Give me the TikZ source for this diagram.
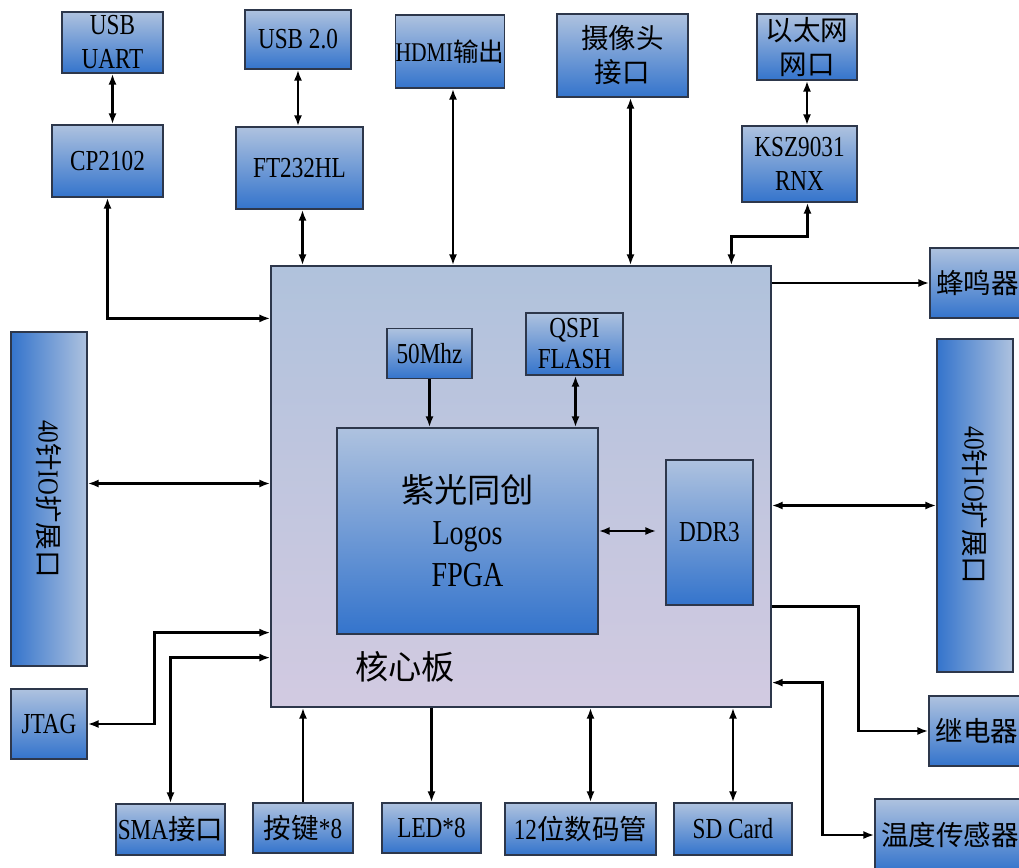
\documentclass[tikz,border=0pt]{standalone}
\usepackage{fontspec}
\setmainfont{Liberation Serif}[FakeStretch=0.8]
\newfontfamily\cjk{Noto Sans CJK SC}[Scale=0.95]
\newcommand{\zh}[1]{{\cjk #1}}
\usetikzlibrary{arrows.meta}
\usetikzlibrary{calc}

\definecolor{boxtop}{RGB}{174,194,223}
\definecolor{boxbot}{RGB}{52,116,204}
\definecolor{coretop}{RGB}{176,194,220}
\definecolor{corebot}{RGB}{210,202,225}
\definecolor{edgec}{RGB}{45,55,75}

\begin{document}
\begin{tikzpicture}[x=1pt, y=-1pt,
    blk/.style={draw=edgec, line width=1.2pt, top color=boxtop, bottom color=boxbot,
      inner sep=0pt, align=center, font=\fontsize{29}{34}\selectfont},
    side/.style={blk, left color=boxbot, right color=boxtop},
    core/.style={draw=edgec, line width=1.2pt, top color=coretop, bottom color=corebot},
    both/.style={line width=2.3pt, {Latex[length=11pt,width=8pt]}-{Latex[length=11pt,width=8pt]}},
    fwd/.style={line width=2.3pt, -{Latex[length=11pt,width=8pt]}}]
    \useasboundingbox (0,0) rectangle (1019,867);

    % top row
    \node[blk, minimum width=101pt, minimum height=61pt] (uart) at (112.5,42.5) {USB\\UART};
    \node[blk, minimum width=111pt, minimum height=72pt] (cp) at (107.5,161) {CP2102};
    \node[blk, minimum width=106pt, minimum height=59pt] (usb) at (298,39.5) {USB 2.0};
    \node[blk, minimum width=127pt, minimum height=82pt] (ft) at (299.5,168) {FT232HL};
    \node[blk, minimum width=106pt, minimum height=73pt, font=\fontsize{27}{34}\selectfont] (hdmi) at (450,51.5) {HDMI\zh{输出}};
    \node[blk, minimum width=131pt, minimum height=83pt] (cam) at (622.5,55.5) {\zh{摄像头}\\\zh{接口}};
    \node[blk, minimum width=100pt, minimum height=66pt] (eth) at (807,47) {\zh{以太网}\\\zh{网口}};
    \node[blk, minimum width=115pt, minimum height=76pt] (ksz) at (799.5,164) {KSZ9031\\RNX};

    % core board
    \node[core, minimum width=500pt, minimum height=441pt] (board) at (521,486.5) {};
    \node[font=\fontsize{35}{40}\selectfont] (boardlbl) at (405,667) {\zh{核心板}};
    \node[blk, minimum width=85pt, minimum height=50pt] (clk) at (429.5,353.5) {50Mhz};
    \node[blk, minimum width=97pt, minimum height=62pt, font=\fontsize{29}{31}\selectfont] (flash) at (574.5,344) {QSPI\\FLASH};
    \node[blk, minimum width=261pt, minimum height=206pt, font=\fontsize{35}{42}\selectfont] (fpga) at (467.5,531) {\zh{紫光同创}\\Logos\\FPGA};
    \node[blk, minimum width=87pt, minimum height=145pt] (ddr) at (709.5,532.5) {DDR3};

    % sides
    \node[side, minimum width=76pt, minimum height=334pt] (ioL) at (49,499) {\rotatebox{-90}{40\zh{针}IO\zh{扩展口}}};
    \node[side, minimum width=76pt, minimum height=333pt] (ioR) at (975,505.5) {\rotatebox{-90}{40\zh{针}IO\zh{扩展口}}};
    \node[blk, minimum width=95pt, minimum height=70pt] (buzz) at (977.5,283) {\zh{蜂鸣器}};
    \node[blk, minimum width=96pt, minimum height=70pt] (relay) at (977,731) {\zh{继电器}};
    \node[blk, minimum width=150pt, minimum height=72pt] (temp) at (950,835) {\zh{温度传感器}};
    \node[blk, minimum width=76pt, minimum height=70pt] (jtag) at (49,724) {JTAG};

    % bottom row
    \node[blk, minimum width=109pt, minimum height=51pt] (sma) at (170.5,829.5) {SMA\zh{接口}};
    \node[blk, minimum width=100pt, minimum height=50pt] (key) at (303,828) {\zh{按键}*8};
    \node[blk, minimum width=99pt, minimum height=50pt] (led) at (431.5,828) {LED*8};
    \node[blk, minimum width=151pt, minimum height=52pt] (seg) at (580.5,829) {12\zh{位数码管}};
    \node[blk, minimum width=118pt, minimum height=52pt] (sd) at (733,829) {SD Card};

    % links
    \draw[both] (uart.south) -- (uart.south |- cp.north);
    \draw[both] (cp.south) |- ([yshift=-53pt]board.north west);
    \draw[both] (usb.south) -- (usb.south |- ft.north);
    \draw[both] ([xshift=3pt]ft.south) -- ([xshift=3pt]ft.south |- board.north);
    \draw[both] ([xshift=3pt]hdmi.south) -- ([xshift=3pt]hdmi.south |- board.north);
    \draw[both] ([xshift=8pt]cam.south) -- ([xshift=8pt]cam.south |- board.north);
    \draw[both] (eth.south) -- (eth.south |- ksz.north);
    \draw[both] ([xshift=8pt]ksz.south) -- ++(0,34) -| ([xshift=461pt]board.north west);
    \draw[fwd] (board.east |- buzz.west) -- (buzz.west);
    \draw[both] ([yshift=3pt]ioL.east |- board.west) -- ([yshift=3pt]board.west);
    \draw[both] (board.east |- ioR.west) -- (ioR.west);
    \draw[fwd] ([yshift=101pt]board.south east) -- ++(87,0) |- (relay.west);
    \draw[both] ([yshift=25pt]board.south east) -- ++(51,0) |- (temp.west);
    \draw[both] (sd.north) -- (sd.north |- board.south);
    \draw[both] ([xshift=10pt]seg.north) -- ([xshift=10pt]seg.north |- board.south);
    \draw[fwd] (board.south -| led.north) -- (led.north);
    \draw[fwd] (key.north) -- (key.north |- board.south);
    \draw[both] ([yshift=50pt]board.south west) -| (sma.north);
    \draw[both] ([yshift=75pt]board.south west) -- ++(-116,0) |- (jtag.east);
    \draw[fwd] (clk.south) -- (clk.south |- fpga.north);
    \draw[both] ([xshift=1pt]flash.south) -- ([xshift=1pt]flash.south |- fpga.north);
    \draw[both, shorten >=9pt] (fpga.east) -- (fpga.east -| ddr.west);
\end{tikzpicture}
\end{document}
